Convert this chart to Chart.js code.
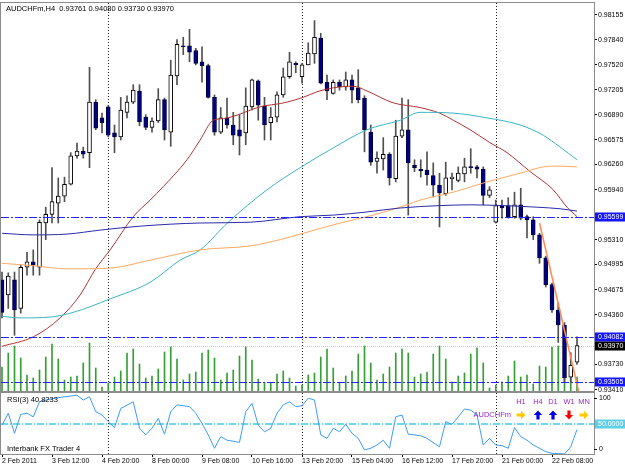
<!DOCTYPE html>
<html><head><meta charset="utf-8">
<script src="https://cdn.jsdelivr.net/npm/chart.js@4.4.1/dist/chart.umd.min.js"></script>
<style>
html,body{margin:0;padding:0;background:#fff;}
#wrap{position:relative;width:625px;height:469px;overflow:hidden;background:#fff;}
.pane{position:absolute;left:0;width:625px;}
</style></head><body>
<div id="wrap">
<div class="pane" style="top:0;height:392px"><canvas id="c1" width="625" height="392"></canvas></div>
<div class="pane" style="top:392px;height:77px"><canvas id="c2" width="625" height="77"></canvas></div>
</div>
<script>
// ---------------- DATA ----------------
const symbol = 'AUDCHFm,H4';
const open = [
0.9480,0.9461,0.9480,0.9444,0.9496,0.9503,0.9496,0.9552,0.9563,0.9577,
0.9586,0.9601,0.9637,0.9643,0.9641,0.9705,0.9685,0.9699,0.9666,0.9661,
0.9692,0.9705,0.9719,0.9686,0.9673,0.9681,0.9708,0.9667,0.9738,0.9776,
0.9776,0.9770,0.9756,0.9751,0.9711,0.9667,0.9685,0.9676,0.9670,0.9666,
0.9699,0.9732,0.9700,0.9679,0.9686,0.9714,0.9737,0.9754,0.9737,0.9752,
0.9766,0.9786,0.9730,0.9716,0.9730,0.9724,0.9733,0.9723,0.9710,0.9667,
0.9630,0.9633,0.9639,0.9608,0.9662,0.9670,0.9625,0.9620,0.9619,0.9612,
0.9600,0.9589,0.9608,0.9606,0.9614,0.9623,0.9623,0.9620,0.9587,0.9553,
0.9574,0.9574,0.9560,0.9575,0.9560,0.9556,0.9537,0.9508,0.9474,0.9442,
0.9423,0.9357,0.93761];
const high = [
0.9490,0.9489,0.9490,0.9499,0.9515,0.9518,0.9556,0.9572,0.9622,0.9609,
0.9610,0.9641,0.9653,0.9648,0.9749,0.9708,0.9691,0.9701,0.9676,0.9711,
0.9713,0.9727,0.9727,0.9689,0.9685,0.9722,0.9710,0.9758,0.9784,0.9787,
0.9797,0.9773,0.9775,0.9753,0.9714,0.9698,0.9710,0.9692,0.9689,0.9723,
0.9734,0.9733,0.9711,0.9698,0.9718,0.9748,0.9768,0.9756,0.9754,0.9780,
0.9808,0.9792,0.9739,0.9733,0.9733,0.9743,0.9739,0.9746,0.9713,0.9676,
0.9642,0.9660,0.9641,0.9682,0.9710,0.9708,0.9632,0.9632,0.9642,0.9628,
0.9615,0.9629,0.9615,0.9623,0.9634,0.9646,0.9625,0.9623,0.9598,0.9581,
0.9581,0.9584,0.9591,0.9596,0.9562,0.9560,0.9539,0.9510,0.9476,0.9451,
0.9426,0.9388,0.94080];
const low = [
0.9432,0.9444,0.9410,0.9438,0.9486,0.9486,0.9486,0.9531,0.9552,0.9552,
0.9579,0.9600,0.9634,0.9634,0.9622,0.9670,0.9666,0.9661,0.9641,0.9657,
0.9685,0.9703,0.9675,0.9670,0.9667,0.9679,0.9657,0.9649,0.9727,0.9765,
0.9756,0.9752,0.9730,0.9710,0.9663,0.9665,0.9672,0.9651,0.9638,0.9651,
0.9695,0.9682,0.9657,0.9657,0.9680,0.9711,0.9735,0.9742,0.9729,0.9752,
0.9754,0.9728,0.9708,0.9715,0.9720,0.9720,0.9704,0.9704,0.9642,0.9625,
0.9615,0.9619,0.9600,0.9604,0.9660,0.9562,0.9617,0.9610,0.9600,0.9585,
0.9547,0.9587,0.9594,0.9604,0.9604,0.9615,0.9609,0.9575,0.9584,0.9552,
0.9558,0.9558,0.9558,0.9556,0.9533,0.9531,0.9501,0.9471,0.9439,0.9401,
0.93505,0.9351,0.93730];
const close = [
0.9439,0.9485,0.9442,0.9496,0.9503,0.9499,0.9553,0.9563,0.9579,0.9586,
0.9601,0.9637,0.9643,0.9639,0.9705,0.9672,0.9679,0.9663,0.9661,0.9695,
0.9705,0.9720,0.9680,0.9673,0.9681,0.9708,0.9670,0.9739,0.9778,0.9775,
0.9768,0.9754,0.9751,0.9711,0.9667,0.9685,0.9676,0.9663,0.9662,0.9700,
0.9733,0.9701,0.9676,0.9686,0.9714,0.9737,0.9756,0.9752,0.9752,0.9767,
0.9787,0.9729,0.9719,0.9730,0.9724,0.9733,0.9720,0.9708,0.9670,0.9629,
0.9634,0.9639,0.9609,0.9662,0.9670,0.9628,0.9622,0.9618,0.9613,0.9600,
0.9590,0.9609,0.9610,0.9615,0.9623,0.9622,0.9620,0.9587,0.9594,0.9574,
0.9571,0.9560,0.9575,0.9558,0.9556,0.9537,0.9508,0.9474,0.9442,0.9423,
0.9356,0.9372,0.93970];
const volume = [
600,950,1125,825,400,325,525,850,1175,800,
275,350,375,700,1200,575,100,200,350,500,
950,1050,675,325,375,550,975,1100,800,275,
425,475,950,1025,825,275,450,525,875,1100,
775,300,200,200,425,500,325,125,150,400,
450,850,1050,575,200,375,500,925,1125,700,
275,425,600,950,1050,950,350,425,475,925,
1125,800,225,375,450,925,1075,700,75,150,
225,375,750,350,400,175,625,600,1100,1125,
1100,500,350];
// moving averages: [bar, price]
const maRed = [[0,0.9396],[5,0.9408],[9.3,0.9432],[12.5,0.9461],[14.9,0.9493],[17.3,0.9518],[21,0.9560],[23.7,0.9581],[25.8,0.9598],[29.6,0.9632],[31.7,0.9657],[33.8,0.9682],[35.4,0.9684],[41.8,0.9700],[44.5,0.9703],[48.2,0.9711],[50.4,0.9718],[53,0.9723],[56.2,0.9725],[58.4,0.9719],[62.6,0.9704],[66.9,0.9698],[70,0.9691],[72.2,0.9682],[74.9,0.9670],[78,0.9654],[80.8,0.9641],[84.5,0.9617],[88.2,0.9594],[90.4,0.9572],[92,0.9560]];
const maTeal = [[0,0.9434],[2.9,0.9432],[7.7,0.9433],[11.4,0.9439],[17.3,0.9456],[23.7,0.9477],[28.5,0.9505],[31.7,0.9518],[36.2,0.9553],[42.4,0.9594],[47.7,0.9622],[53,0.9647],[58.4,0.9670],[63.7,0.9682],[66.9,0.9692],[72.2,0.9691],[77.6,0.9685],[82.9,0.9676],[86.6,0.9663],[89.3,0.9648],[92,0.9632]];
const maOrange = [[0,0.9501],[5,0.9498],[10.4,0.9494],[17.3,0.9495],[23.7,0.9505],[31.7,0.9518],[39.7,0.9523],[44.5,0.9531],[48.2,0.9539],[54.1,0.9552],[59.4,0.9562],[64.8,0.9575],[66.9,0.9581],[72.2,0.9591],[77.6,0.9604],[82.9,0.9615],[86.6,0.9623],[88.8,0.9624],[92,0.9623]];
const maNavy = [[0,0.9539],[5,0.9537],[10.4,0.9538],[15.7,0.9543],[22.1,0.9548],[31.7,0.9552],[39.7,0.9553],[47.7,0.9560],[53,0.9562],[58.4,0.9566],[63.7,0.9571],[70,0.9574],[74.9,0.9575],[80.2,0.9574],[85.6,0.9572],[89.3,0.9570],[92,0.9567]];
const trendLine = [[86,0.9552],[92.3,0.9338]];
const levels = [0.95599, 0.94082, 0.93505];
const bidPrice = 0.93970;
const priceTicks = [0.98155,0.97840,0.97520,0.97205,0.96890,0.96575,0.96260,0.95940,0.95310,0.94995,0.94675,0.94360,0.93730,0.93410];
const weekStartBars = [17, 48, 79];
const timeLabelBars = [0,8,16,24,32,40,48,56,64,72,80,88];
const timeLabels = ['2 Feb 2011','3 Feb 12:00','4 Feb 20:00','8 Feb 00:00','9 Feb 08:00','10 Feb 16:00','13 Feb 20:00','15 Feb 04:00','16 Feb 12:00','17 Feb 20:00','21 Feb 00:00','22 Feb 08:00'];
const rsiLast = 40.8233;
const rsiPoints = [[0,48],[1,68],[2,34.5],[3,66],[4,68],[5,62],[6,87],[7,90],[9,94],[12,98],[13,90],[14,95.5],[15,70.5],[16,65],[17,54],[18,44],[19,76],[21,87],[22,43],[23,32],[24,43],[25,59.5],[26,33],[27,70.5],[28,82],[30,79],[31,68],[32,51],[33,32],[34,9.5],[35,29],[36,23],[38,19.5],[39,70.5],[40,84.5],[41,48],[42,37],[43,43],[44,68],[45,82],[46,87],[47,79],[48,80.5],[49,93],[50,90],[51,32],[52,26],[53,43],[54,37],[55,49.5],[56,34.5],[57,26],[58,6.7],[59,9.5],[60,15],[61,23],[62,9.5],[63,62],[64,65],[65,33],[67,30.5],[68,26],[70,12],[71,54],[72,49.5],[73,62],[74,75],[75,73],[76,65],[77,15],[78,26],[79,15],[80,14],[81,9.5],[82,44],[83,29],[84,23],[85,15],[87,4],[88,1],[89,1],[90,0],[91,12],[92,rsiLast]];
const rsiLevel = 50;
const rsiTicks = [0, 100];
const signalFrames = ['H1','H4','D1','W1','MN'];
const signalDirs = ['right','up','up','down','right'];

// ---------------- SETUP ----------------
Chart.defaults.font.family = "'Liberation Sans', Arial, sans-serif";
Chart.defaults.font.size = 7;
Chart.defaults.color = '#000';
const X_MIN = -0.16, X_MAX = 94.72;
const FONT = "7px 'Liberation Sans', Arial, sans-serif";
const FONT2 = "7.5px 'Liberation Sans', Arial, sans-serif";

function hline(ctx, x1, x2, y){ctx.beginPath();ctx.moveTo(x1,y);ctx.lineTo(x2,y);ctx.stroke();}
function vline(ctx, x, y1, y2){ctx.beginPath();ctx.moveTo(x,y1);ctx.lineTo(x,y2);ctx.stroke();}
function box(ctx, a, py, bg, txt){
  ctx.fillStyle = bg; ctx.fillRect(a.right+1, Math.round(py)-4.5, 625-a.right-1, 9);
  ctx.fillStyle = '#fff'; ctx.font = FONT; ctx.textBaseline='middle'; ctx.textAlign='left';
  ctx.fillText(txt, a.right+4, Math.round(py)+0.5);
}
function frame(ctx, a){
  ctx.save(); ctx.strokeStyle='#8c8c8c'; ctx.lineWidth=1; ctx.setLineDash([]);
  ctx.strokeRect(a.left-0.5, a.top-0.5, a.right-a.left+1, a.bottom-a.top+1);
  ctx.restore();
}

const mainPlugin = {
  id:'mainDecor',
  beforeDatasetsDraw(chart){
    const {ctx, chartArea:a, scales:{x,y}} = chart;
    ctx.save(); ctx.lineWidth=1;
    ctx.strokeStyle='#c8c8c8'; ctx.setLineDash([1,1]);
    hline(ctx, a.left, a.right, Math.round(y.getPixelForValue(bidPrice))+0.5);
    ctx.strokeStyle='#202020'; ctx.setLineDash([1,2]);
    weekStartBars.forEach(b=>vline(ctx, Math.round(x.getPixelForValue(b))+0.5, a.top, a.bottom));
    ctx.restore();
  },
  afterDatasetsDraw(chart){
    const {ctx, chartArea:a, scales:{y}} = chart;
    ctx.save(); ctx.lineWidth=1; ctx.strokeStyle='#2424ff'; ctx.setLineDash([8,2,2,2]);
    levels.forEach(v=>hline(ctx, a.left, a.right, Math.round(y.getPixelForValue(v))+0.5));
    ctx.restore();
  },
  afterDraw(chart){
    const {ctx, chartArea:a, scales:{y}} = chart;
    ctx.save();
    frame(ctx, a);
    levels.forEach(v=>box(ctx, a, y.getPixelForValue(v), '#1414ff', v.toFixed(5)));
    box(ctx, a, y.getPixelForValue(bidPrice), '#000000', bidPrice.toFixed(5));
    const n = close.length-1;
    ctx.fillStyle='#000'; ctx.font=FONT2; ctx.textAlign='left'; ctx.textBaseline='alphabetic';
    ctx.fillText(symbol+'  '+open[n].toFixed(5)+' '+high[n].toFixed(5)+' '+low[n].toFixed(5)+' '+close[n].toFixed(5), a.left+5, a.top+7.5);
    ctx.restore();
  }
};

function arrow(ctx, cx, cy, dir, col){
  const pts = [[-4.5,-1.6],[0,-1.6],[0,-4.2],[4.5,0],[0,4.2],[0,1.6],[-4.5,1.6]];
  const rot = {right:[1,0], up:[0,-1], down:[0,1]}[dir];
  ctx.fillStyle=col; ctx.beginPath();
  pts.forEach(([px,py],i)=>{
    const X = cx + px*rot[0] - py*rot[1];
    const Y = cy + px*rot[1] + py*rot[0];
    if(i===0) ctx.moveTo(X,Y); else ctx.lineTo(X,Y);
  });
  ctx.closePath(); ctx.fill();
}

const rsiPlugin = {
  id:'rsiDecor',
  beforeDatasetsDraw(chart){
    const {ctx, chartArea:a, scales:{x,y}} = chart;
    ctx.save(); ctx.lineWidth=1;
    ctx.strokeStyle='#202020'; ctx.setLineDash([1,2]);
    weekStartBars.forEach(b=>vline(ctx, Math.round(x.getPixelForValue(b))+0.5, a.top, a.bottom));
    ctx.strokeStyle='#6fd8ea'; ctx.lineWidth=2; ctx.setLineDash([7,2,1,2]);
    hline(ctx, a.left, a.right, Math.round(y.getPixelForValue(rsiLevel)));
    ctx.restore();
  },
  afterDraw(chart){
    const {ctx, chartArea:a, scales:{y}} = chart;
    ctx.save();
    frame(ctx, a);
    ctx.fillStyle='#000'; ctx.strokeStyle='#000'; ctx.lineWidth=1; ctx.font=FONT; ctx.textBaseline='middle'; ctx.textAlign='left';
    const ly = [Math.round(y.getPixelForValue(rsiTicks[0]))-5, Math.round(y.getPixelForValue(rsiTicks[1]))+4];
    rsiTicks.forEach((t,i)=>{ hline(ctx, a.right, a.right+3, ly[i]+0.5); ctx.fillText(String(t), a.right+5, ly[i]+0.5); });
    box(ctx, a, y.getPixelForValue(rsiLevel), '#5cd0e6', rsiLevel.toFixed(4));
    ctx.fillStyle='#000'; ctx.font=FONT2; ctx.textBaseline='alphabetic';
    ctx.fillText('RSI(3) '+rsiLast.toFixed(4), a.left+6, a.top+8.5);
    ctx.fillText('Interbank FX Trader 4', a.left+6, a.bottom-3);
    // signal panel
    const offs = [-73,-56,-41,-25,-10];
    const cols = {right:'#ffcc00', up:'#0000e0', down:'#ff0000'};
    ctx.font=FONT2; ctx.textAlign='center'; ctx.textBaseline='middle';
    signalFrames.forEach((f,i)=>{ ctx.fillStyle='#9c27c8'; ctx.fillText(f, a.right+offs[i], a.top+9); });
    ctx.textAlign='right'; ctx.fillStyle='#9c27c8';
    ctx.fillText('AUDCHFm', a.right-83, a.top+22);
    signalDirs.forEach((d,i)=>arrow(ctx, a.right+offs[i], a.top+22, d, cols[d]));
    ctx.restore();
  }
};

const toXY = arr => arr.map(([b,v])=>({x:b,y:v}));
const maLine = (data, col) => ({type:'line', data:toXY(data), borderColor:col, borderWidth:1, pointRadius:0, cubicInterpolationMode:'monotone', order:3});

const bull = open.map((o,i)=>close[i]>=o);

new Chart(document.getElementById('c1'), {
  type:'bar',
  data:{datasets:[
    {type:'bar', yAxisID:'yVol', data:volume.map((v,i)=>({x:i,y:v})), backgroundColor:'#34a034', barThickness:1, grouped:false, order:10},
    {type:'bar', data:open.map((o,i)=>({x:i,y:[low[i],high[i]]})), backgroundColor:'#505050', barThickness:1, grouped:false, order:8},
    {type:'bar', data:open.map((o,i)=>({x:i,y:[o,close[i]]})), backgroundColor:bull.map(b=>b?'#ffffff':'#000080'), borderColor:bull.map(b=>b?'#000000':'#000040'), borderWidth:1, borderSkipped:false, barThickness:4, minBarLength:1, grouped:false, order:7},
    maLine(maNavy,'#2a2aa8'),
    maLine(maOrange,'#ffa860'),
    maLine(maTeal,'#3bb4c4'),
    maLine(maRed,'#b03434'),
    {type:'line', data:toXY(trendLine), borderColor:'#ff8a50', borderWidth:1.5, pointRadius:0, order:2}
  ]},
  options:{
    responsive:false, animation:false, events:[],
    layout:{padding:{left:1, top:3, bottom:1, right:0}},
    plugins:{legend:{display:false}, tooltip:{enabled:false}},
    scales:{
      x:{type:'linear', min:X_MIN, max:X_MAX, display:false, offset:false, grid:{offset:false}},
      y:{type:'linear', position:'right', min:0.93395, max:0.98303,
         grid:{display:true, drawOnChartArea:false, drawTicks:true, tickLength:3, color:'#000'},
         border:{display:true, color:'#8c8c8c'},
         ticks:{autoSkip:false, padding:1, font:{size:7}, color:'#000', callback:v=>Number(v).toFixed(5)},
         afterBuildTicks:s=>{s.ticks = priceTicks.map(v=>({value:v}));},
         afterFit:s=>{s.width=31; s.paddingTop=0; s.paddingBottom=0;}},
      yVol:{type:'linear', display:false, min:0, max:9700}
    }
  },
  plugins:[mainPlugin]
});

new Chart(document.getElementById('c2'), {
  type:'line',
  data:{datasets:[{data:toXY(rsiPoints), borderColor:'#3d9bf5', borderWidth:1, pointRadius:0, tension:0}]},
  options:{
    responsive:false, animation:false, events:[],
    layout:{padding:{left:1, top:1, bottom:0, right:0}},
    plugins:{legend:{display:false}, tooltip:{enabled:false}},
    scales:{
      x:{type:'linear', position:'bottom', min:X_MIN, max:X_MAX, offset:false,
         grid:{display:true, drawOnChartArea:false, drawTicks:true, tickLength:3, color:'#000'},
         border:{display:true, color:'#8c8c8c'},
         ticks:{autoSkip:false, maxRotation:0, align:'start', padding:0, font:{size:7}, color:'#000',
                callback:v=>{const k=timeLabelBars.indexOf(v); return k>=0?timeLabels[k]:'';}},
         afterBuildTicks:s=>{s.ticks = timeLabelBars.map(v=>({value:v}));},
         afterFit:s=>{s.height=15; s.paddingLeft=0; s.paddingRight=0;}},
      y:{type:'linear', position:'right', min:0, max:101.7,
         grid:{display:false}, border:{display:true, color:'#8c8c8c'},
         ticks:{display:false},
         afterFit:s=>{s.width=31; s.paddingTop=0; s.paddingBottom=0;}}
    }
  },
  plugins:[rsiPlugin]
});
</script>
</body></html>
